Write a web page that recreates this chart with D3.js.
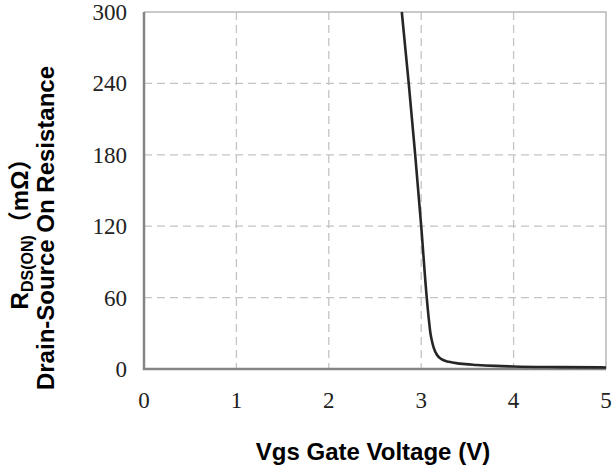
<!DOCTYPE html>
<html>
<head>
<meta charset="utf-8">
<script src="https://cdn.jsdelivr.net/npm/d3@7"></script>
<style>
    body { margin: 0; background: #ffffff; }
    #chart { width: 614px; height: 468px; display: block; }
</style>
</head>
<body>
<svg id="chart"></svg>
<script>

// gate voltage (V) and on resistance (mOhm)
var vgs = [2.79, 2.865, 2.935, 3.00, 3.06, 3.085, 3.10, 3.115, 3.135, 3.17, 3.215, 3.30, 3.42, 3.60, 3.80, 4.00, 4.50, 5.00];
var rdson = [300, 240, 180, 120, 60, 40, 30, 24, 18, 12, 8.5, 6, 4.5, 3.4, 2.6, 2.1, 1.6, 1.3];

var xTicks = [0, 1, 2, 3, 4, 5];
var yTicks = [0, 60, 120, 180, 240, 300];

var xTitle = "Vgs Gate Voltage (V)";
var yTitle = "Drain-Source On Resistance";


class RdsGraph {

    constructor(id) {

        this.svg = d3.select("#" + id);

        // parameters
        this.left = 144;
        this.right = 606;
        this.top = 12;
        this.bottom = 369;
        this.tickFont = "'Liberation Serif', 'Times New Roman', serif";
        this.titleFont = "'Liberation Sans', Arial, 'Noto Sans CJK SC', sans-serif";

    }

    setup() {
        this.computeDimensions();
        this.computeScales();
        this.drawGrid();
        this.drawFrame();
        this.drawCurve();
        this.drawLabels();
    }

    computeDimensions() {

        this.width = 614;
        this.height = 468;

        this.svg.attr("width", this.width);
        this.svg.attr("height", this.height);

    }

    computeScales() {

        this.x = d3.scaleLinear()
            .domain([0, 5])
            .range([this.left, this.right]);

        this.y = d3.scaleLinear()
            .domain([0, 300])
            .range([this.bottom, this.top]);

    }

    drawGrid() {

        var x = this.x;
        var y = this.y;

        var grid = this.svg.append("g");

        grid.selectAll(".vgrid")
            .data(xTicks.slice(1, -1))
            .enter()
            .append("line")
            .attr("x1", d => x(d))
            .attr("x2", d => x(d))
            .attr("y1", this.top)
            .attr("y2", this.bottom)
            .attr("stroke", "#c4c4c4")
            .attr("stroke-width", 1.3)
            .attr("stroke-dasharray", "8,5");

        grid.selectAll(".hgrid")
            .data(yTicks.slice(1, -1))
            .enter()
            .append("line")
            .attr("x1", this.left)
            .attr("x2", this.right)
            .attr("y1", d => y(d))
            .attr("y2", d => y(d))
            .attr("stroke", "#c4c4c4")
            .attr("stroke-width", 1.3)
            .attr("stroke-dasharray", "8,5");

    }

    drawFrame() {

        // light top and right border
        var border = this.svg.append("path");
        border.attr("d", d3.line()([
            [this.left, this.top],
            [this.right, this.top],
            [this.right, this.bottom]
        ]));
        border.attr("fill", "none");
        border.attr("stroke", "#b8b8b8");
        border.attr("stroke-width", 1.5);

        // darker left and bottom axes
        var axes = this.svg.append("path");
        axes.attr("d", d3.line()([
            [this.left, this.top],
            [this.left, this.bottom],
            [this.right, this.bottom]
        ]));
        axes.attr("fill", "none");
        axes.attr("stroke", "#858585");
        axes.attr("stroke-width", 2.5);

    }

    drawCurve() {

        var x = this.x;
        var y = this.y;

        var points = vgs.map((v, i) => [v, rdson[i]]);

        var line = d3.line()
            .x(d => x(d[0]))
            .y(d => y(d[1]))
            .curve(d3.curveMonotoneX);

        var path = this.svg.append("path");
        path.attr("d", line(points));
        path.attr("fill", "none");
        path.attr("stroke", "#262626");
        path.attr("stroke-width", 2.6);

    }

    drawLabels() {

        var x = this.x;
        var y = this.y;

        // tick labels
        this.svg.selectAll(".xtick")
            .data(xTicks)
            .enter()
            .append("text")
            .attr("x", d => x(d))
            .attr("y", 408)
            .attr("text-anchor", "middle")
            .attr("font-family", this.tickFont)
            .attr("font-size", "23px")
            .attr("fill", "#222")
            .text(d => d);

        this.svg.selectAll(".ytick")
            .data(yTicks)
            .enter()
            .append("text")
            .attr("x", 127)
            .attr("y", d => y(d) + 8)
            .attr("text-anchor", "end")
            .attr("font-family", this.tickFont)
            .attr("font-size", "23px")
            .attr("fill", "#222")
            .text(d => d);

        // x title
        var xt = this.svg.append("text");
        xt.attr("x", 373);
        xt.attr("y", 460);
        xt.attr("text-anchor", "middle");
        xt.attr("font-family", this.titleFont);
        xt.attr("font-weight", "bold");
        xt.attr("font-size", "24px");
        xt.attr("fill", "#000");
        xt.text(xTitle);

        // y title, two rotated lines
        var cy = 228;

        var t1 = this.svg.append("text");
        t1.attr("transform", "translate(28," + cy + ") rotate(-90)");
        t1.attr("text-anchor", "middle");
        t1.attr("font-family", this.titleFont);
        t1.attr("font-weight", "bold");
        t1.attr("font-size", "24px");
        t1.attr("fill", "#000");
        t1.append("tspan").text("R");
        t1.append("tspan")
            .attr("dy", 5)
            .attr("font-size", "16px")
            .text("DS(ON)");
        t1.append("tspan")
            .attr("dy", -5)
            .text("（mΩ）");

        var t2 = this.svg.append("text");
        t2.attr("transform", "translate(54," + cy + ") rotate(-90)");
        t2.attr("text-anchor", "middle");
        t2.attr("font-family", this.titleFont);
        t2.attr("font-weight", "bold");
        t2.attr("font-size", "24px");
        t2.attr("fill", "#000");
        t2.text(yTitle);

    }

}

var graph = new RdsGraph("chart");
graph.setup();

</script>
</body>
</html>
